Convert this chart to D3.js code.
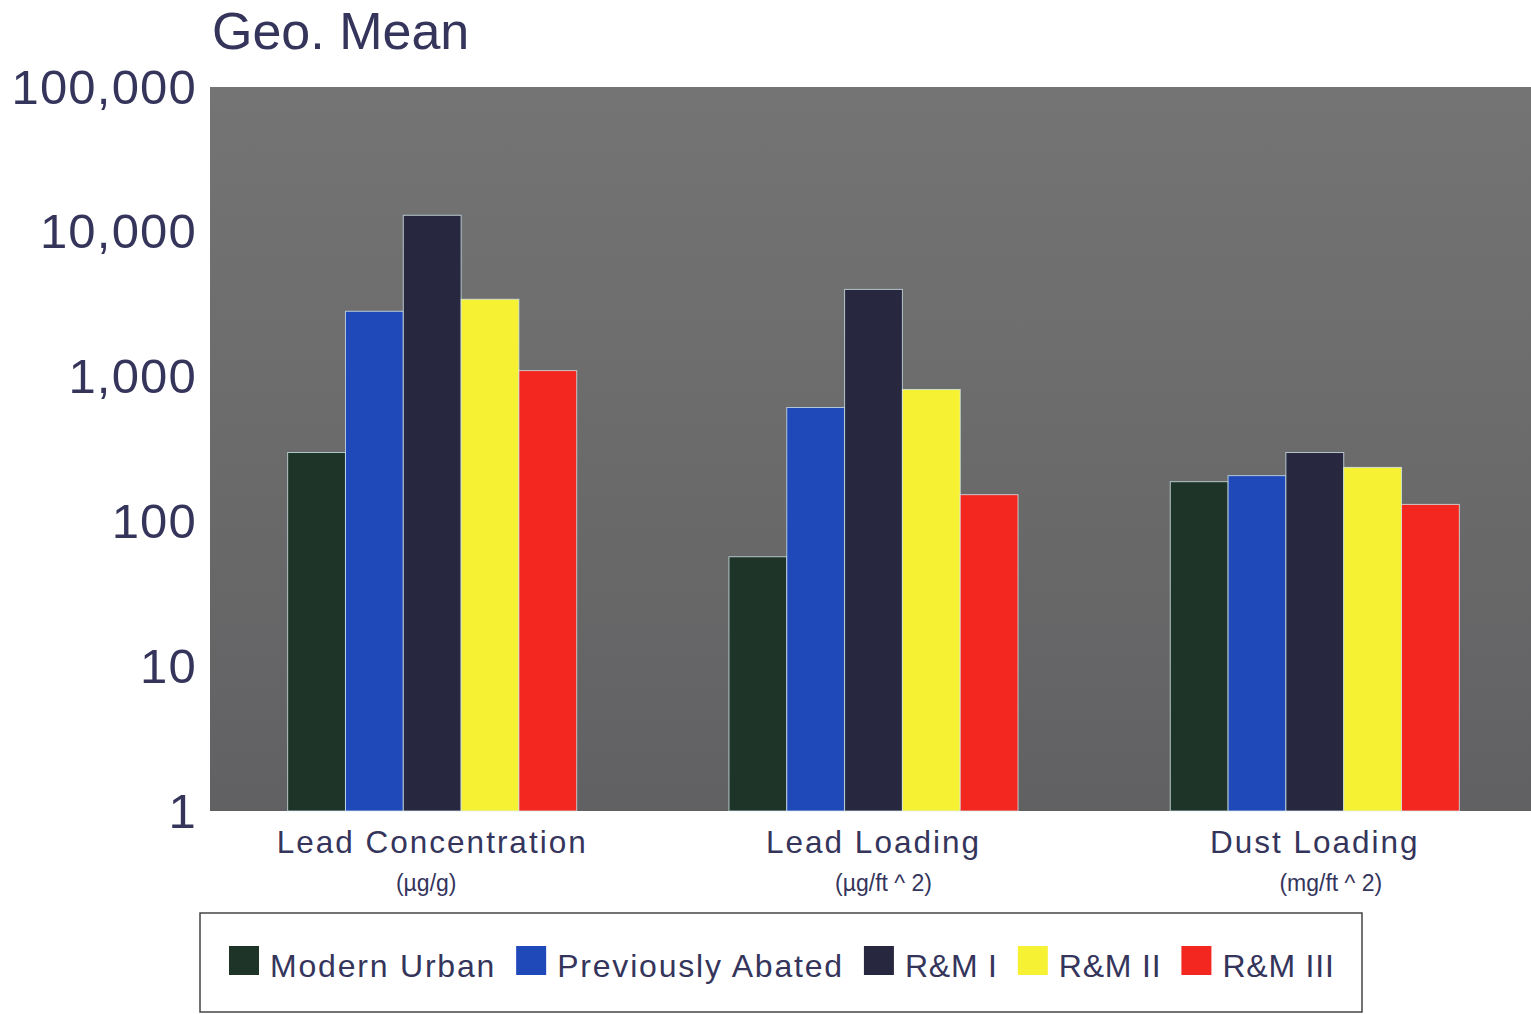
<!DOCTYPE html>
<html><head><meta charset="utf-8">
<script src="https://cdn.jsdelivr.net/npm/d3@7"></script>
<style>
html,body{margin:0;padding:0;background:#fff;}
svg{display:block;font-family:"Liberation Sans",Arial,sans-serif;}
</style></head>
<body>
<svg id="chart" width="1531" height="1014"></svg>
<script>
const categories = ["Lead Concentration","Lead Loading","Dust Loading"];
const units = ["(\u00b5g/g)","(\u00b5g/ft ^ 2)","(mg/ft ^ 2)"];
const seriesNames = ["Modern Urban","Previously Abated","R&M I","R&M II","R&M III"];
const modernUrban = [299, 57, 188];
const previouslyAbated = [2825, 612, 207];
const rmI = [13000, 4000, 299];
const rmII = [3420, 815, 236];
const rmIII = [1100, 153, 131];
const tickValues = [1,10,100,1000,10000,100000];
const tickLabels = ["1","10","100","1,000","10,000","100,000"];
const yTitle = "Geo. Mean";

const seriesValues = [modernUrban, previouslyAbated, rmI, rmII, rmIII];
const colors = ["#1e3429","#1f48b8","#27283f","#f6f133","#f3271f"];
const textColor = "#35355c";

const svg = d3.select("#chart");
const plot = {left:210, right:1531, top:87, bottom:811};

const defs = svg.append("defs");
const grad = defs.append("linearGradient").attr("id","bg").attr("x1",0).attr("y1",0).attr("x2",0).attr("y2",1);
grad.append("stop").attr("offset","0%").attr("stop-color","#747474");
grad.append("stop").attr("offset","55%").attr("stop-color","#6a6a6b");
grad.append("stop").attr("offset","100%").attr("stop-color","#616163");

svg.append("rect").attr("x",plot.left).attr("y",plot.top)
  .attr("width",plot.right-plot.left).attr("height",plot.bottom-plot.top)
  .attr("fill","url(#bg)");

const x = d3.scaleBand().domain(categories).range([plot.left, plot.right + 6])
  .paddingInner(0.345).paddingOuter(0.176);
const xs = d3.scaleBand().domain(seriesNames).range([0, x.bandwidth()]);
const y = d3.scaleLog().domain([1,100000]).range([plot.bottom, plot.top]);

// bars
categories.forEach((c, ci) => {
  seriesNames.forEach((s, si) => {
    const v = seriesValues[si][ci];
    svg.append("rect")
      .attr("x", x(c) + xs(s))
      .attr("y", y(v))
      .attr("width", xs.bandwidth())
      .attr("height", y(1) - y(v))
      .attr("fill", colors[si])
      .attr("stroke", "#d8eef0")
      .attr("stroke-opacity", 0.75)
      .attr("stroke-width", 1);
  });
});

// y axis
const yAxis = d3.axisLeft(y).tickValues(tickValues)
  .tickFormat((d,i) => tickLabels[i]).tickSize(0).tickPadding(13);
const gy = svg.append("g").attr("transform",`translate(${plot.left},0)`).call(yAxis);
gy.select(".domain").remove();
gy.selectAll("text").attr("fill",textColor).attr("font-size",49)
  .attr("letter-spacing","1.2px").attr("font-family","Liberation Sans, Arial, sans-serif")
  .attr("dy","0.33em");

// title
svg.append("text").attr("x",212).attr("y",49).attr("fill",textColor)
  .attr("font-size",52).text(yTitle);

// x axis labels
const xAxis = d3.axisBottom(x).tickSize(0).tickPadding(0);
const gx = svg.append("g").attr("transform",`translate(0,${plot.bottom})`).call(xAxis);
gx.select(".domain").remove();
gx.selectAll("text").attr("fill",textColor).attr("font-size",31.5)
  .attr("letter-spacing","2px").attr("font-family","Liberation Sans, Arial, sans-serif")
  .attr("dy",null).attr("y",42);
gx.selectAll(".tick").append("text")
  .attr("fill",textColor).attr("font-size",23).attr("text-anchor","middle")
  .attr("font-family","Liberation Sans, Arial, sans-serif")
  .attr("x",(d,i)=>[-6,10,16][i]).attr("y",80)
  .text((d,i)=>units[i]);

// legend
svg.append("rect").attr("x",200).attr("y",913).attr("width",1162).attr("height",99)
  .attr("fill","#fff").attr("stroke","#444").attr("stroke-width",1.5);
let lx = 229;
seriesNames.forEach((s, si) => {
  svg.append("rect").attr("x",lx).attr("y",946).attr("width",30).attr("height",29).attr("fill",colors[si]);
  const t = svg.append("text").attr("x",lx+41).attr("y",977).attr("fill",textColor)
    .attr("font-size",32).attr("letter-spacing", si < 2 ? "1.8px" : "0.8px").text(s);
  lx = lx + 41 + t.node().getComputedTextLength() + 20;
});
</script>
</body></html>
